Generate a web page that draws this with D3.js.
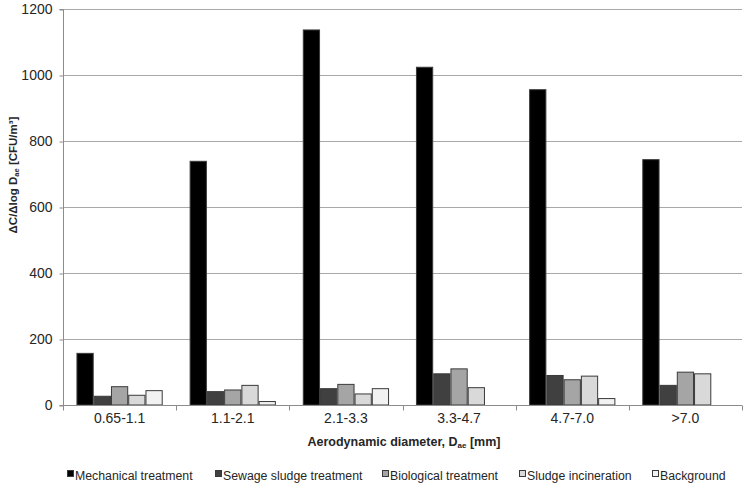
<!DOCTYPE html>
<html>
<head>
<meta charset="utf-8">
<script src="https://cdn.jsdelivr.net/npm/d3@7"></script>
<style>
  body { margin: 0; background: #fff; }
  svg { font-family: "Liberation Sans", Arial, sans-serif; }
</style>
</head>
<body>
<svg id="chart" width="750" height="487"></svg>
<script>
var categories = ["0.65-1.1", "1.1-2.1", "2.1-3.3", "3.3-4.7", "4.7-7.0", ">7.0"];
var seriesNames = ["Mechanical treatment", "Sewage sludge treatment", "Biological treatment", "Sludge incineration", "Background"];

var mechanical = [158, 740, 1138, 1025, 957, 745];
var sewage     = [28, 42, 51, 96, 91, 61];
var biological = [57, 47, 64, 111, 78, 101];
var incinerat  = [31, 61, 35, 54, 89, 96];
var background = [45, 12, 51, 0, 21, 0];

var yTicks = [0, 200, 400, 600, 800, 1000, 1200];
var colors = ["#000000", "#404040", "#a5a5a5", "#d9d9d9", "#f2f2f2"];

var series = [mechanical, sewage, biological, incinerat, background];

var svg = d3.select("#chart");
var plot = { left: 63, right: 742, top: 9, bottom: 405 };

var x = d3.scaleBand()
    .domain(categories)
    .range([plot.left, plot.right]);

var xs = d3.scaleBand()
    .domain(d3.range(seriesNames.length))
    .range([0, x.bandwidth()])
    .paddingOuter(0.78)
    .paddingInner(0);

var y = d3.scaleLinear()
    .domain([0, 1200])
    .range([plot.bottom, plot.top]);

// gridlines
svg.append("g")
    .selectAll("line")
    .data(yTicks.filter(d => d > 0))
  .enter().append("line")
    .attr("x1", plot.left)
    .attr("x2", plot.right)
    .attr("y1", d => y(d) + 0.5)
    .attr("y2", d => y(d) + 0.5)
    .attr("stroke", "#a8a8a8")
    .attr("stroke-width", 1);

// bars
var groups = svg.append("g")
    .selectAll("g")
    .data(categories)
  .enter().append("g")
    .attr("transform", d => "translate(" + x(d) + ",0)");

groups.selectAll("rect")
    .data((c, i) => series.map((s, k) => ({ k: k, v: s[i] })).filter(d => d.v > 0))
  .enter().append("rect")
    .attr("x", d => xs(d.k) + 0.5)
    .attr("y", d => y(d.v) + 0.5)
    .attr("width", xs.bandwidth() - 1)
    .attr("height", d => y(0) - y(d.v) - 0.5)
    .attr("fill", d => colors[d.k])
    .attr("stroke", "#3a3a3a")
    .attr("stroke-width", 1);

// y axis
var yAxis = svg.append("g")
    .attr("transform", "translate(" + (plot.left + 0.5) + ",0.5)")
    .call(d3.axisLeft(y).tickValues(yTicks).tickFormat(d3.format("d")).tickSize(4).tickPadding(7));
yAxis.select(".domain").attr("stroke", "#8c8c8c").attr("d", "M-4," + y(0) + "H0V" + y(1200) + "H-4");
yAxis.selectAll(".tick line").attr("stroke", "#8c8c8c");
yAxis.selectAll("text")
    .attr("font-size", 14)
    .attr("fill", "#262626")
    .attr("font-family", "Liberation Sans, Arial, sans-serif");

// x axis
var xAxis = svg.append("g")
    .attr("transform", "translate(0," + (plot.bottom + 0.5) + ")");
xAxis.append("line")
    .attr("x1", plot.left).attr("x2", plot.right)
    .attr("stroke", "#8c8c8c");
xAxis.selectAll(".tk")
    .data(categories.concat(["end"]))
  .enter().append("line")
    .attr("x1", (d, i) => Math.round(plot.left + i * x.bandwidth()) + 0.5)
    .attr("x2", (d, i) => Math.round(plot.left + i * x.bandwidth()) + 0.5)
    .attr("y1", 0).attr("y2", 5)
    .attr("stroke", "#8c8c8c");
xAxis.selectAll("text")
    .data(categories)
  .enter().append("text")
    .attr("x", d => x(d) + x.bandwidth() / 2)
    .attr("y", 17)
    .attr("text-anchor", "middle")
    .attr("font-size", 14)
    .attr("fill", "#262626")
    .text(d => d);

// axis titles
var xt = svg.append("text")
    .attr("x", 404)
    .attr("y", 446)
    .attr("text-anchor", "middle")
    .attr("font-size", 12.5)
    .attr("font-weight", "bold")
    .attr("fill", "#262626");
xt.append("tspan").text("Aerodynamic diameter, D");
xt.append("tspan").attr("font-size", 8).attr("dy", 2).text("ae");
xt.append("tspan").attr("dy", -2).text(" [mm]");

var yt = svg.append("text")
    .attr("transform", "translate(17,175) rotate(-90)")
    .attr("text-anchor", "middle")
    .attr("font-size", 11.5)
    .attr("font-weight", "bold")
    .attr("fill", "#262626");
yt.append("tspan").text("\u0394C/\u0394log D");
yt.append("tspan").attr("font-size", 7.5).attr("dy", 2).text("ae");
yt.append("tspan").attr("dy", -2).text(" [CFU/m\u00b3]");

// legend
var legendX = [67, 215, 382, 519, 652];
var legend = svg.append("g").attr("transform", "translate(0,475)");
seriesNames.forEach(function(name, k) {
    var item = legend.append("g").attr("transform", "translate(" + legendX[k] + ",0)");
    item.append("rect")
        .attr("x", 0.5).attr("y", -4.5)
        .attr("width", 6).attr("height", 6)
        .attr("fill", colors[k])
        .attr("stroke", "#3a3a3a");
    item.append("text")
        .attr("x", 8)
        .attr("y", 4.5)
        .attr("font-size", 12.3)
        .attr("fill", "#262626")
        .text(name);
});
</script>
</body>
</html>
